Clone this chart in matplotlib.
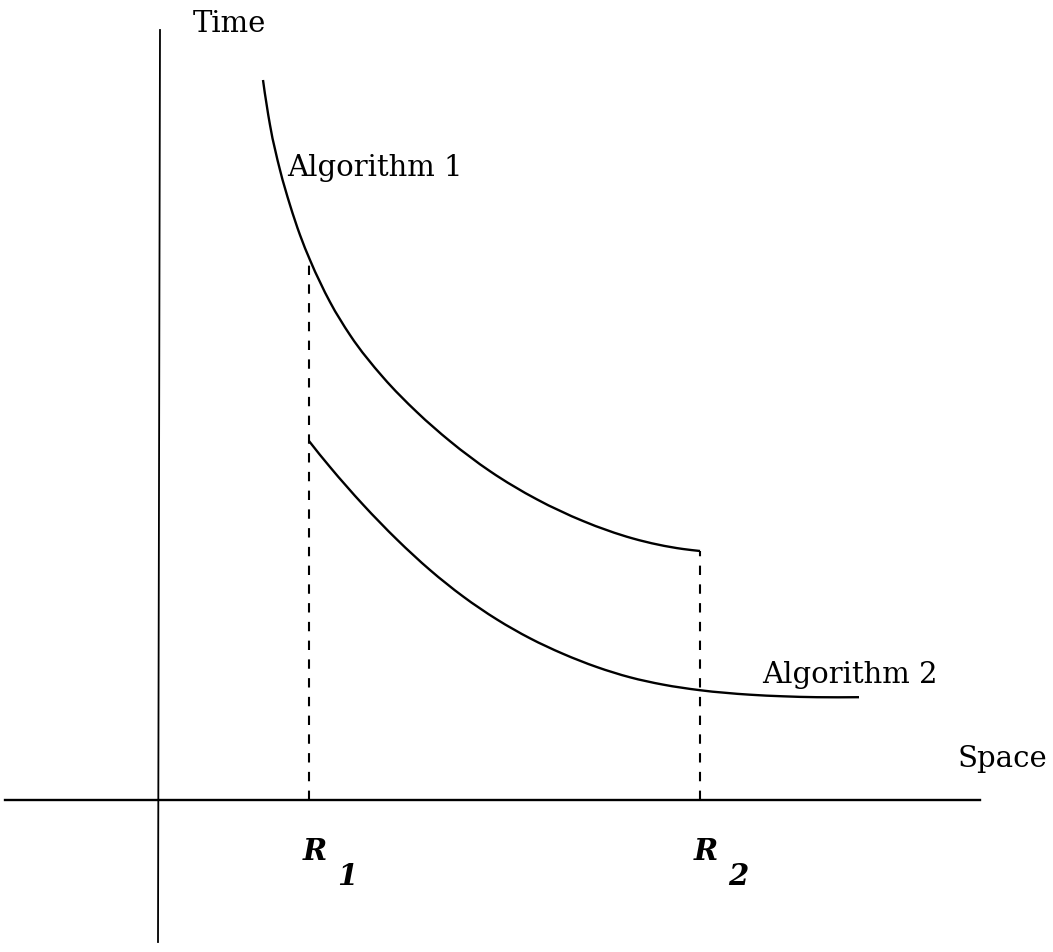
import matplotlib
matplotlib.use("Agg")
import matplotlib.pyplot as plt
from matplotlib.path import Path
from matplotlib.patches import PathPatch

# Data (Space, Time); origin at the axes crossing
alg1_space = [1.03, 1.10, 1.20, 1.30, 1.40, 1.50, 1.70, 1.90, 2.23, 2.57, 2.90, 3.30, 3.77, 4.23, 4.73, 5.23, 5.40]
alg1_time = [7.20, 6.75, 6.30, 5.95, 5.65, 5.40, 4.98, 4.65, 4.228, 3.878, 3.588, 3.288, 3.006, 2.79, 2.615, 2.51, 2.49]

alg2_space = [1.49, 1.70, 2.03, 2.37, 2.70, 3.03, 3.37, 3.70, 4.03, 4.37, 4.70, 5.03, 5.40, 5.90, 6.23, 6.57, 6.99]
alg2_time = [3.59, 3.33, 2.954, 2.604, 2.30, 2.036, 1.805, 1.617, 1.462, 1.329, 1.227, 1.154, 1.098, 1.053, 1.037, 1.028, 1.028]

r_positions = [1.49, 5.40]
r_tops = [5.42, 2.49]
r_labels = ["R", "R"]
r_subs = ["1", "2"]
curve_labels = ["Algorithm 1", "Algorithm 2"]
axis_labels = ["Time", "Space"]


def smooth_path(xs, ys):
    """Smooth curve through the given points (cubic Hermite in x, drawn as Beziers)."""
    n = len(xs)
    slopes = []
    for i in range(n):
        if i == 0:
            m = (ys[1] - ys[0]) / (xs[1] - xs[0])
            m2 = (ys[2] - ys[1]) / (xs[2] - xs[1])
            m = m + (m - m2) * 0.5
        elif i == n - 1:
            m = (ys[-1] - ys[-2]) / (xs[-1] - xs[-2])
        else:
            hl = xs[i] - xs[i - 1]
            hr = xs[i + 1] - xs[i]
            dl = (ys[i] - ys[i - 1]) / hl
            dr = (ys[i + 1] - ys[i]) / hr
            m = (dl * hr + dr * hl) / (hl + hr)
        slopes.append(m)
    verts = [(xs[0], ys[0])]
    codes = [Path.MOVETO]
    for i in range(n - 1):
        h = xs[i + 1] - xs[i]
        c1 = (xs[i] + h / 3.0, ys[i] + slopes[i] * h / 3.0)
        c2 = (xs[i + 1] - h / 3.0, ys[i + 1] - slopes[i + 1] * h / 3.0)
        verts += [c1, c2, (xs[i + 1], ys[i + 1])]
        codes += [Path.CURVE4] * 3
    return Path(verts, codes)


fig = plt.figure(figsize=(10.53, 9.52), dpi=100)
ax = fig.add_axes([0, 0, 1, 1])
ax.set_xlim(-1.6, 8.93)
ax.set_ylim(-1.52, 8.0)
ax.axis("off")

lw = 1.7
# axes lines
ax.plot([-1.55, 8.2], [0, 0], color="black", lw=lw)
ax.plot([0, -0.02], [7.7, -1.42], color="black", lw=1.3)

for xs, ys in [(alg1_space, alg1_time), (alg2_space, alg2_time)]:
    ax.add_patch(PathPatch(smooth_path(xs, ys), facecolor="none", edgecolor="black",
                           lw=lw, capstyle="butt"))

for x, top in zip(r_positions, r_tops):
    ax.plot([x, x], [0, top], color="black", lw=1.5, linestyle=(0, (4.5, 4.5)))

font = dict(family="DejaVu Serif", size=21, color="black")
ax.text(0.33, 7.68, axis_labels[0], va="baseline", ha="left", **font)
ax.text(7.97, 0.33, axis_labels[1], va="baseline", ha="left", **font)
ax.text(1.27, 6.24, curve_labels[0], va="baseline", ha="left", **font)
ax.text(6.02, 1.17, curve_labels[1], va="baseline", ha="left", **font)

ifont = dict(family="DejaVu Serif", size=21, style="italic", weight="bold", color="black")
for x, lab, sub in zip(r_positions, r_labels, r_subs):
    ax.text(x - 0.06, -0.60, lab, va="baseline", ha="left", **ifont)
    ax.text(x + 0.28, -0.85, sub, va="baseline", ha="left", **ifont)

fig.savefig("out.png", dpi=100, facecolor="white")
